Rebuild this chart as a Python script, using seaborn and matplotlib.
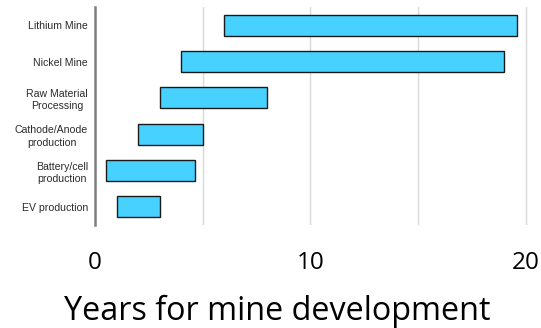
import matplotlib
matplotlib.use("Agg")
import matplotlib.pyplot as plt
import seaborn as sns
import pandas as pd

# Development stages and the span of years each one covers
stages = ["Lithium Mine", "Nickel Mine", "Raw Material\nProcessing",
          "Cathode/Anode\nproduction", "Battery/cell\nproduction", "EV production"]
start_year = [6, 4, 3, 2, 0.5, 1]
end_year = [19.6, 19, 8, 5, 4.65, 3]
x_ticks = [0, 5, 10, 15, 20]
x_tick_labels = ["0", "", "10", "", "20"]

df = pd.DataFrame({"stage": stages, "start": start_year, "end": end_year})
df["duration"] = df["end"] - df["start"]

sns.set_theme(style="white")
plt.rcParams["font.family"] = ["Liberation Sans", "DejaVu Sans"]

fig = plt.figure(figsize=(5.41, 3.28), dpi=100)
ax = fig.add_axes([95 / 541, 1 - 225 / 328, (530 - 95) / 541, (225 - 7) / 328])

sns.barplot(data=df, x="duration", y="stage", orient="h", left=df["start"].values,
            color="#47d1fe", saturation=1, width=0.58,
            edgecolor="#1a1a1a", linewidth=1.0, ax=ax, zorder=3)

ax.set_xlim(0, 20.2)
ax.set_ylim(5.5, -0.5)
ax.set_xticks(x_ticks)
ax.set_xticklabels(x_tick_labels, fontsize=17.5, family=["Open Sans", "DejaVu Sans"])
ax.grid(axis="x", color="#d9d9d9", linewidth=1.0, zorder=0)
ax.tick_params(axis="x", length=0, pad=19, colors="black")
ax.tick_params(axis="y", length=0, pad=5, labelsize=7.6, colors="#2b2b2b")
for lbl in ax.get_yticklabels():
    lbl.set_multialignment("center")
    lbl.set_linespacing(1.3)

for side in ["top", "right", "bottom"]:
    ax.spines[side].set_visible(False)
ax.spines["left"].set_color("#7f7f7f")
ax.spines["left"].set_linewidth(1.8)

ax.set_ylabel("")
ax.set_xlabel("Years for mine development", fontsize=23.3,
              family=["Open Sans", "DejaVu Sans"], color="black")
ax.xaxis.set_label_coords(0.418, -0.32)

fig.savefig("out.png", dpi=100, facecolor="white")
